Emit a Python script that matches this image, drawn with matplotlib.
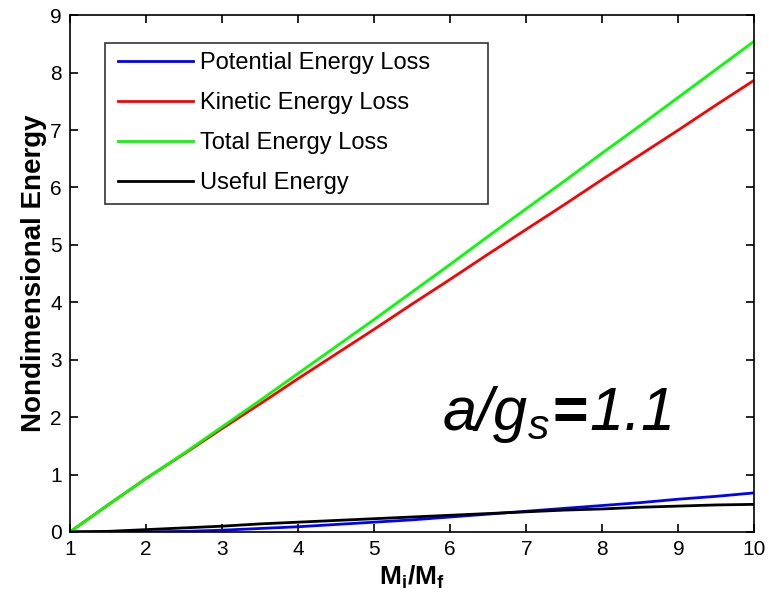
import matplotlib
matplotlib.use("Agg")
import matplotlib.pyplot as plt
from matplotlib.patches import Rectangle

plt.rcParams['font.family'] = ['Liberation Sans', 'DejaVu Sans']
plt.rcParams['mathtext.fontset'] = 'custom'
plt.rcParams['mathtext.rm'] = 'Liberation Sans'
plt.rcParams['mathtext.it'] = 'Liberation Sans:italic'
plt.rcParams['mathtext.sf'] = 'Liberation Sans:italic'
plt.rcParams['mathtext.bf'] = 'Liberation Sans:bold'

# mass ratio Mi/Mf
mass_ratio = [1, 1.5, 2, 2.5, 3, 3.5, 4, 4.5, 5, 5.5, 6, 6.5, 7, 7.5, 8, 8.5, 9, 9.5, 10]

potential_loss = [0, 0, 0, 0.01, 0.03, 0.06, 0.09, 0.13, 0.17, 0.21, 0.26, 0.31,
                  0.36, 0.41, 0.46, 0.51, 0.57, 0.62, 0.68]
kinetic_loss = [0, 0.47, 0.93, 1.36, 1.80, 2.23, 2.67, 3.10, 3.53, 3.97, 4.40, 4.84,
                5.27, 5.70, 6.14, 6.57, 7.00, 7.44, 7.87]
total_loss = [0, 0.47, 0.93, 1.37, 1.83, 2.29, 2.76, 3.23, 3.70, 4.18, 4.66, 5.15,
              5.63, 6.11, 6.60, 7.08, 7.57, 8.06, 8.55]
useful_energy = [0, 0.01, 0.04, 0.07, 0.10, 0.14, 0.17, 0.20, 0.23, 0.26, 0.29, 0.32,
                 0.35, 0.38, 0.40, 0.43, 0.45, 0.47, 0.48]

fig = plt.figure(figsize=(7.69, 6.10), dpi=100)
ax = fig.add_axes([0.091, 0.128, 0.890, 0.847])

lw = 2.0
ax.plot(mass_ratio, potential_loss, color=(0, 0, 1), lw=lw, label='Potential Energy Loss')
ax.plot(mass_ratio, kinetic_loss, color=(1, 0, 0), lw=lw, label='Kinetic Energy Loss')
ax.plot(mass_ratio, total_loss, color=(0, 1, 0), lw=lw, label='Total Energy Loss')
ax.plot(mass_ratio, useful_energy, color='black', lw=lw, label='Useful Energy')

ax.set_xlim(1, 10)
ax.set_ylim(0, 9)
ax.set_xticks(range(1, 11))
ax.set_yticks(range(0, 10))
ax.tick_params(direction='in', top=True, right=True, labelsize=15, length=6, width=1.2, pad=6)
for s in ax.spines.values():
    s.set_linewidth(1.2)

ax.set_ylabel('Nondimensional Energy', fontsize=20, fontweight='bold', labelpad=2)
ax.set_xlabel(r'$\mathbf{M_i/M_f}$', fontsize=19, labelpad=3)

# legend without its own frame; the box is drawn wider, matlab style
leg = ax.legend(loc='center left', bbox_to_anchor=(0.070, 0.7915), fontsize=17,
                frameon=False, handlelength=3.18, handletextpad=0.3,
                labelspacing=0.76, borderpad=0, borderaxespad=0)
ax.add_patch(Rectangle((0.0511, 0.6348), 0.5597, 0.3116, transform=ax.transAxes,
                       fill=False, edgecolor='#333333', lw=1.2, zorder=5))

ax.text(5.89, 1.777, r'$\mathsf{a/g}_\mathsf{s}\!\mathbf{=}\!\mathsf{1.1}$', fontsize=44,
        ha='left', va='baseline')

fig.savefig('out.png', dpi=100)
